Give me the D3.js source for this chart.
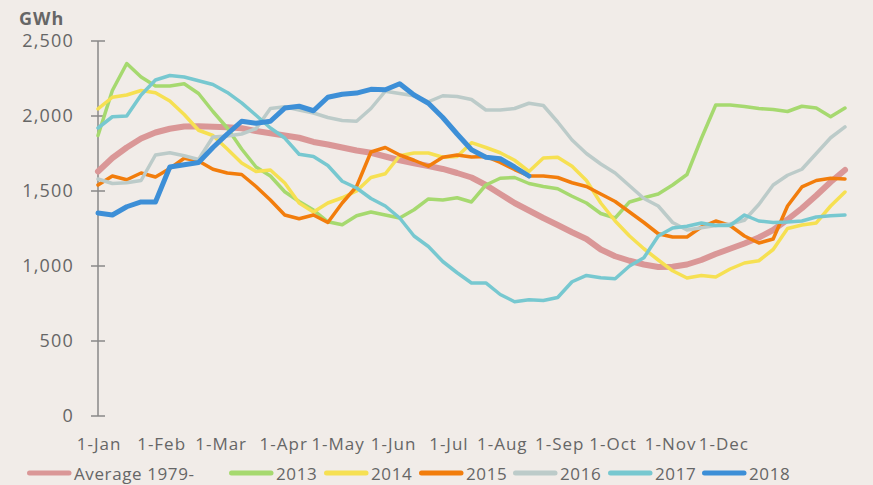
<!DOCTYPE html>
<html>
<head>
<meta charset="utf-8">
<script src="https://cdn.jsdelivr.net/npm/d3@7"></script>
<style>
  html, body { margin: 0; padding: 0; background: #f1ece8; }
  svg { display: block; }
  text { font-family: "Open Sans", Lato, sans-serif; fill: #666; letter-spacing: 1px; }
</style>
</head>
<body>
<svg id="chart" width="873" height="485"></svg>
<script>
// weekly readings (GWh), one value every 7 days from 1-Jan
const avg = [1630, 1720, 1790, 1850, 1890, 1915, 1930, 1932, 1928, 1925, 1918, 1900, 1885, 1870, 1855, 1827, 1810, 1790, 1770, 1755, 1730, 1705, 1685, 1667, 1647, 1620, 1590, 1540, 1480, 1420, 1370, 1320, 1273, 1225, 1180, 1110, 1065, 1035, 1010, 993, 995, 1010, 1040, 1080, 1115, 1150, 1190, 1240, 1310, 1385, 1470, 1560, 1640];
const y2013 = [1870, 2170, 2350, 2260, 2200, 2200, 2215, 2150, 2030, 1920, 1780, 1660, 1600, 1495, 1430, 1373, 1295, 1275, 1335, 1360, 1340, 1320, 1375, 1447, 1440, 1455, 1427, 1540, 1585, 1590, 1550, 1530, 1515, 1465, 1420, 1350, 1320, 1427, 1455, 1480, 1540, 1610, 1850, 2073, 2073, 2063, 2050, 2043, 2030, 2065, 2053, 1995, 2053];
const y2014 = [2047, 2125, 2140, 2170, 2155, 2100, 2010, 1905, 1870, 1780, 1687, 1630, 1640, 1553, 1420, 1360, 1420, 1455, 1500, 1590, 1615, 1735, 1753, 1753, 1725, 1730, 1822, 1790, 1755, 1705, 1630, 1720, 1725, 1665, 1570, 1420, 1300, 1200, 1115, 1040, 968, 920, 937, 927, 980, 1020, 1035, 1110, 1250, 1273, 1287, 1400, 1493];
const y2015 = [1540, 1600, 1575, 1620, 1593, 1650, 1718, 1700, 1645, 1620, 1610, 1530, 1440, 1340, 1315, 1340, 1290, 1420, 1530, 1760, 1790, 1740, 1705, 1665, 1725, 1740, 1727, 1730, 1690, 1643, 1600, 1600, 1590, 1555, 1530, 1480, 1430, 1360, 1290, 1215, 1193, 1193, 1260, 1300, 1270, 1200, 1153, 1180, 1400, 1527, 1570, 1585, 1580];
const y2016 = [1580, 1550, 1555, 1570, 1740, 1755, 1735, 1710, 1860, 1867, 1880, 1915, 2050, 2062, 2040, 2020, 1990, 1970, 1965, 2050, 2165, 2150, 2135, 2095, 2135, 2130, 2110, 2040, 2040, 2050, 2085, 2070, 1960, 1840, 1750, 1680, 1620, 1535, 1450, 1400, 1290, 1240, 1255, 1270, 1280, 1305, 1410, 1540, 1605, 1645, 1750, 1855, 1927];
const y2017 = [1920, 1995, 2000, 2140, 2240, 2270, 2260, 2235, 2210, 2157, 2087, 2005, 1920, 1853, 1745, 1730, 1670, 1565, 1520, 1450, 1400, 1320, 1200, 1130, 1030, 955, 887, 887, 810, 762, 775, 770, 790, 895, 937, 922, 915, 1000, 1055, 1200, 1253, 1265, 1287, 1270, 1270, 1340, 1300, 1290, 1293, 1300, 1327, 1335, 1340];
const y2018 = [1353, 1340, 1395, 1427, 1427, 1660, 1675, 1690, 1790, 1880, 1965, 1952, 1965, 2053, 2065, 2035, 2125, 2145, 2153, 2178, 2175, 2215, 2140, 2085, 1990, 1880, 1775, 1725, 1715, 1660, 1600];

const seriesNames = ["Average 1979-", "2013", "2014", "2015", "2016", "2017", "2018"];
const seriesValues = [avg, y2013, y2014, y2015, y2016, y2017, y2018];
const seriesColors = ["#da9797", "#a6d96f", "#f6e052", "#f27d0c", "#bccbc9", "#77c8d0", "#3d8fd7"];
const seriesWidths = [6, 3.5, 3.5, 3.5, 3.5, 3.5, 5];

const monthLabels = ["1-Jan", "1-Feb", "1-Mar", "1-Apr", "1-May", "1-Jun", "1-Jul", "1-Aug", "1-Sep", "1-Oct", "1-Nov", "1-Dec"];
const monthLabelDays = [0.5, 31, 60, 90.5, 117, 144, 171, 197, 225, 251, 279, 305];
const yTicks = [0, 500, 1000, 1500, 2000, 2500];

const svg = d3.select("#chart");

const x = d3.scaleLinear().domain([0, 364]).range([98, 845]);
const y = d3.scaleLinear().domain([0, 2500]).range([416, 41]);

// y axis
const yAxis = svg.append("g").attr("transform", "translate(98,0)");
yAxis.append("line")
  .attr("y1", y(2500)).attr("y2", y(0))
  .attr("stroke", "#888").attr("stroke-width", 1.5);
yAxis.selectAll(".tick")
  .data(yTicks)
  .enter()
  .append("line")
  .attr("x1", -7).attr("x2", 7)
  .attr("y1", (d) => y(d)).attr("y2", (d) => y(d))
  .attr("stroke", "#888").attr("stroke-width", 1.5);
yAxis.selectAll(".ylab")
  .data(yTicks)
  .enter()
  .append("text")
  .attr("x", -24)
  .attr("y", (d) => y(d) + 6)
  .attr("text-anchor", "end")
  .attr("font-size", "18px")
  .style("letter-spacing", "1.2px")
  .text((d) => d3.format(",")(d));

svg.append("text")
  .attr("x", 19).attr("y", 25)
  .attr("font-size", "18px")
  .attr("font-weight", "bold")
  .text("GWh");

// month labels
svg.selectAll(".xlab")
  .data(monthLabels)
  .enter()
  .append("text")
  .attr("x", (d, i) => x(monthLabelDays[i]))
  .attr("y", 450)
  .attr("text-anchor", "middle")
  .attr("font-size", "17px")
  .text((d) => d);

// lines
const line = d3.line()
  .x((d, i) => x(i * 7))
  .y((d) => y(d));

svg.append("g")
  .selectAll("path")
  .data(seriesValues)
  .enter()
  .append("path")
  .attr("d", (d) => line(d))
  .attr("fill", "none")
  .attr("stroke", (d, i) => seriesColors[i])
  .attr("stroke-width", (d, i) => seriesWidths[i])
  .attr("stroke-linejoin", "round")
  .attr("stroke-linecap", "round");

// legend
const legendX = [27, 229, 324, 419, 513, 608, 702];
const legend = svg.append("g")
  .selectAll("g")
  .data(seriesNames)
  .enter()
  .append("g")
  .attr("transform", (d, i) => `translate(${legendX[i]}, 473)`);
legend.append("line")
  .attr("x1", 2.5).attr("x2", 42)
  .attr("stroke", (d, i) => seriesColors[i])
  .attr("stroke-width", 5)
  .attr("stroke-linecap", "round");
legend.append("text")
  .attr("x", 47).attr("y", 7)
  .attr("font-size", "17px")
  .style("letter-spacing", "0.6px")
  .text((d) => d);
</script>
</body>
</html>
